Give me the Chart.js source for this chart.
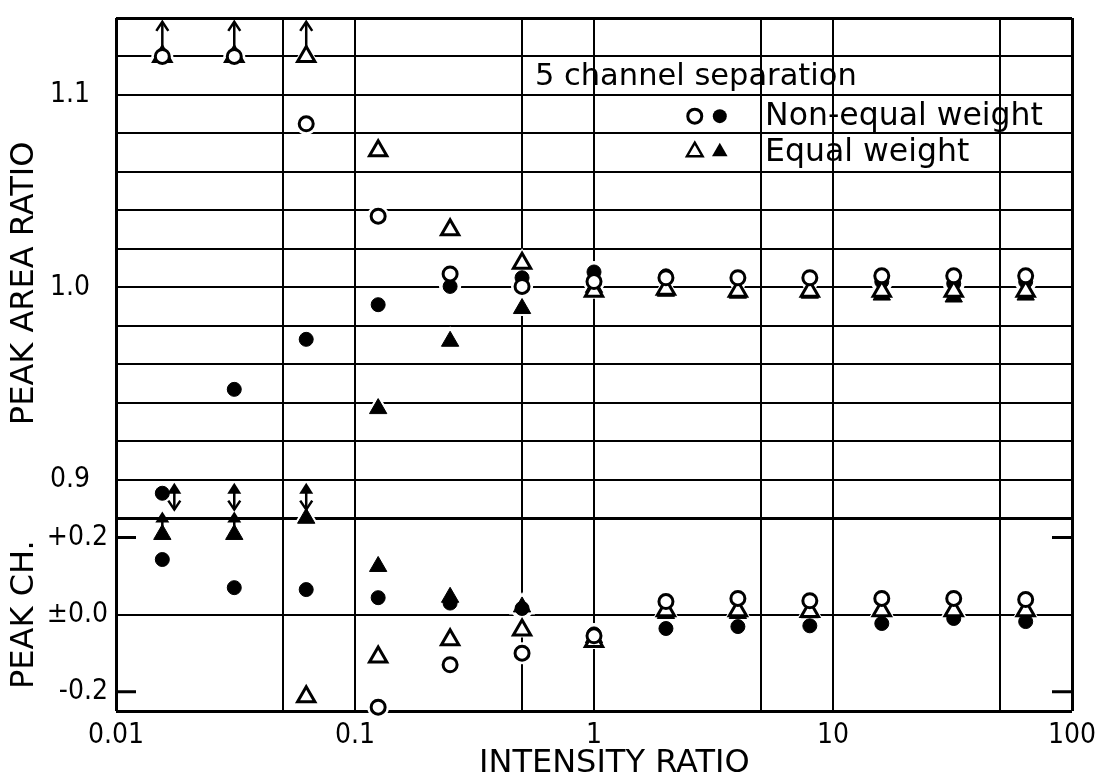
<!DOCTYPE html>
<html>
<head>
<meta charset="utf-8">
<script src="https://cdn.jsdelivr.net/npm/chart.js@4.4.1/dist/chart.umd.min.js"></script>
<style>
    html, body { margin: 0; padding: 0; background: #fff; }
</style>
</head>
<body>
<canvas id="chart" width="1097" height="779"></canvas>
<script>
// intensity ratios measured (1/64 ... 64)
const intensityRatio = [1/64, 1/32, 1/16, 1/8, 1/4, 1/2, 1, 2, 4, 8, 16, 32, 64];

// upper panel: peak area ratio
const areaOpenCircle   = [1.12, 1.12, 1.085, 1.037, 1.007, 1.0005, 1.003, 1.005, 1.005, 1.005, 1.006, 1.006, 1.006];
const areaFilledCircle = [0.893, 0.947, 0.973, 0.991, 1.0005, 1.005, 1.008, 1.006, 1.005, 1.005, 1.003, 1.002, 1.003];
const areaOpenTri      = [1.12, 1.12, 1.12, 1.071, 1.030, 1.0125, 0.998, 0.999, 0.998, 0.998, 0.998, 0.998, 0.998];
const areaFilledTri    = [null, null, null, 0.937, 0.972, 0.989, 1.0, 0.998, 0.997, 0.997, 0.996, 0.995, 0.996];

// lower panel: peak channel shift
const chOpenCircle   = [null, null, null, -0.24, -0.13, -0.10, -0.055, 0.034, 0.042, 0.036, 0.042, 0.042, 0.039];
const chFilledCircle = [0.143, 0.070, 0.065, 0.044, 0.03, 0.016, -0.05, -0.036, -0.031, -0.029, -0.023, -0.01, -0.018];
const chOpenTri      = [null, null, -0.213, -0.11, -0.065, -0.04, -0.07, 0.01, 0.01, 0.008, 0.01, 0.01, 0.01];
const chFilledTri    = [0.208, 0.208, 0.25, 0.125, 0.045, 0.02, -0.06, 0.003, 0.003, 0.005, 0.01, 0.013, 0.008];

// points off the scale, marked with arrows
const areaAboveX = [1/64, 1/32, 1/16];
const areaBelowX = [1/64, 1/32, 1/16];
const chAboveX   = [1/64, 1/32];

const xTicks  = [0.01, 0.05, 0.1, 0.5, 1, 5, 10, 50, 100];
const xLabels = ['0.01', '', '0.1', '', '1', '', '10', '', '100'];
const areaTicks  = [0.88, 0.90, 0.92, 0.94, 0.96, 0.98, 1.00, 1.02, 1.04, 1.06, 1.08, 1.10, 1.12, 1.14];
const areaLabels = ['', '0.9', '', '', '', '', '1.0', '', '', '', '', '1.1', '', ''];
const chTicks  = [-0.25, -0.2, 0, 0.2, 0.25];
const chLabels = ['', '-0.2', '±0.0', '+0.2', ''];

const FONT = '"DejaVu Sans", sans-serif';
const TICK_FONT = { family: '"DejaVu Sans Condensed", "DejaVu Sans", sans-serif', size: 28 };
const TITLE_FONT = { family: FONT, size: 32, lineHeight: 1.0 };

function pts(ys) {
    return intensityRatio.map((x, i) => ({ x, y: ys[i] }));
}

const openMark = { backgroundColor: '#fff', borderColor: '#000', borderWidth: 3 };
const solidMark = { backgroundColor: '#000', borderColor: '#000', borderWidth: 1 };
const haloMark = { backgroundColor: '#fff', borderColor: '#fff', borderWidth: 0 };

function mark(data, axis, style, shape, grow) {
    const r = (shape === 'triangle' ? 10 : 7) + (grow || 0);
    return Object.assign({
        data: pts(data),
        yAxisID: axis,
        pointStyle: shape,
        pointRadius: r,
        pointHoverRadius: r,
        showLine: false,
        clip: false
    }, style);
}

function upChevron(ctx, x, y) {
    ctx.beginPath();
    ctx.moveTo(x - 6, y + 9);
    ctx.lineTo(x, y);
    ctx.lineTo(x + 6, y + 9);
    ctx.stroke();
}

function downChevron(ctx, x, y) {
    ctx.beginPath();
    ctx.moveTo(x - 6, y - 9);
    ctx.lineTo(x, y);
    ctx.lineTo(x + 6, y - 9);
    ctx.stroke();
}

function solidUpHead(ctx, x, y) {
    ctx.beginPath();
    ctx.moveTo(x, y);
    ctx.lineTo(x + 7, y + 11);
    ctx.lineTo(x - 7, y + 11);
    ctx.closePath();
    ctx.fill();
}

function circleKey(ctx, x, y, filled) {
    ctx.beginPath();
    ctx.arc(x, y, 7, 0, Math.PI * 2);
    if (filled) ctx.fill(); else { ctx.fillStyle = '#fff'; ctx.fill(); ctx.fillStyle = '#000'; ctx.stroke(); }
}

function triKey(ctx, x, y, filled) {
    const r = 9;
    ctx.beginPath();
    ctx.moveTo(x, y - r);
    ctx.lineTo(x + r * 0.866, y + r / 2);
    ctx.lineTo(x - r * 0.866, y + r / 2);
    ctx.closePath();
    if (filled) ctx.fill(); else { ctx.fillStyle = '#fff'; ctx.fill(); ctx.fillStyle = '#000'; ctx.stroke(); }
}

const extras = {
    id: 'extras',
    afterDatasetsDraw(chart) {
        const { ctx, chartArea } = chart;
        const { x, yArea, yCh } = chart.scales;
        ctx.save();
        ctx.strokeStyle = '#000';
        ctx.fillStyle = '#000';
        ctx.lineWidth = 2.5;
        ctx.lineCap = 'butt';

        // above the upper limit
        areaAboveX.forEach(v => {
            const px = x.getPixelForValue(v);
            const y0 = yArea.getPixelForValue(1.12) - 9;
            const y1 = yArea.getPixelForValue(1.138);
            ctx.beginPath(); ctx.moveTo(px, y0); ctx.lineTo(px, y1); ctx.stroke();
            upChevron(ctx, px, y1);
        });

        // filled triangles below the lower limit of the area panel
        areaBelowX.forEach((v, i) => {
            const px = x.getPixelForValue(v) + (i === 0 ? 12 : 0);
            const yt = yArea.getPixelForValue(0.8985);
            const yb = yArea.getPixelForValue(0.8845);
            solidUpHead(ctx, px, yt);
            ctx.beginPath(); ctx.moveTo(px, yt + 8); ctx.lineTo(px, yb); ctx.stroke();
            downChevron(ctx, px, yb);
        });

        // channel shift beyond the upper limit
        chAboveX.forEach(v => {
            const px = x.getPixelForValue(v);
            const y0 = yCh.getPixelForValue(0.208) - 8;
            const y1 = yArea.getPixelForValue(0.8835);
            ctx.beginPath(); ctx.moveTo(px, y0); ctx.lineTo(px, y1 + 6); ctx.stroke();
            solidUpHead(ctx, px, y1);
        });

        // short inner ticks at +-0.2
        ctx.lineWidth = 3;
        [0.2, -0.2].forEach(v => {
            const py = yCh.getPixelForValue(v);
            ctx.beginPath();
            ctx.moveTo(chartArea.left, py); ctx.lineTo(chartArea.left + 20, py);
            ctx.moveTo(chartArea.right - 20, py); ctx.lineTo(chartArea.right, py);
            ctx.stroke();
        });

        // key
        ctx.textBaseline = 'alphabetic';
        ctx.textAlign = 'left';
        ctx.font = '30.5px ' + FONT;
        ctx.fillText('5 channel separation', x.getPixelForValue(0.566), yArea.getPixelForValue(1.1052));
        ctx.font = '31.5px ' + FONT;
        ctx.fillText('Non-equal weight', x.getPixelForValue(5.2), yArea.getPixelForValue(1.0844));
        ctx.fillText('Equal weight', x.getPixelForValue(5.2), yArea.getPixelForValue(1.0658));
        ctx.lineWidth = 3;
        circleKey(ctx, x.getPixelForValue(2.64), yArea.getPixelForValue(1.089), false);
        circleKey(ctx, x.getPixelForValue(3.36), yArea.getPixelForValue(1.089), true);
        ctx.lineWidth = 2.5;
        triKey(ctx, x.getPixelForValue(2.64), yArea.getPixelForValue(1.0705), false);
        triKey(ctx, x.getPixelForValue(3.36), yArea.getPixelForValue(1.0705), true);
        ctx.restore();
    }
};

// drop the label overhang padding so the frame sits where the reference has it
function noOverhang(s) {
    s.paddingTop = 0; s.paddingBottom = 0; s.paddingLeft = 0; s.paddingRight = 0;
}

new Chart(document.getElementById('chart'), {
    type: 'scatter',
    data: {
        datasets: [
            mark(areaOpenCircle, 'yArea', openMark, 'circle'),
            mark(areaOpenTri, 'yArea', openMark, 'triangle'),
            mark(chOpenCircle, 'yCh', openMark, 'circle'),
            mark(chOpenTri, 'yCh', openMark, 'triangle'),
            mark(areaFilledCircle, 'yArea', solidMark, 'circle'),
            mark(areaFilledTri, 'yArea', solidMark, 'triangle'),
            mark(chFilledCircle, 'yCh', solidMark, 'circle'),
            mark(chFilledTri, 'yCh', solidMark, 'triangle'),
            // white halos that break the grid lines around the marks
            mark(areaOpenCircle, 'yArea', haloMark, 'circle', 4),
            mark(areaOpenTri, 'yArea', haloMark, 'triangle', 5),
            mark(chOpenCircle, 'yCh', haloMark, 'circle', 4),
            mark(chOpenTri, 'yCh', haloMark, 'triangle', 5),
            mark(areaFilledCircle, 'yArea', haloMark, 'circle', 4),
            mark(areaFilledTri, 'yArea', haloMark, 'triangle', 5),
            mark(chFilledCircle, 'yCh', haloMark, 'circle', 4),
            mark(chFilledTri, 'yCh', haloMark, 'triangle', 5)
        ]
    },
    options: {
        responsive: false,
        animation: false,
        layout: { padding: { top: 18, right: 25, left: 0, bottom: 0 } },
        plugins: { legend: { display: false }, tooltip: { enabled: false } },
        scales: {
            x: {
                type: 'logarithmic',
                position: 'bottom',
                min: 0.01,
                max: 100,
                afterBuildTicks: s => { s.ticks = xTicks.map(v => ({ value: v })); },
                afterFit: s => { s.height = 68; noOverhang(s); },
                ticks: {
                    autoSkip: false,
                    maxRotation: 0,
                    padding: 8,
                    color: '#000',
                    font: TICK_FONT,
                    callback: (v, i) => xLabels[i]
                },
                grid: {
                    color: '#000',
                    drawTicks: false,
                    lineWidth: c => (c.index === 0 || c.index === xTicks.length - 1) ? 3 : 2
                },
                border: { display: false },
                title: {
                    display: true,
                    text: '    INTENSITY RATIO',
                    color: '#000',
                    font: TITLE_FONT,
                    padding: { top: 0, bottom: -1 }
                }
            },
            yArea: {
                type: 'linear',
                position: 'left',
                stack: 'panels',
                stackWeight: 501,
                weight: 1,
                min: 0.88,
                max: 1.14,
                afterBuildTicks: s => { s.ticks = areaTicks.map(v => ({ value: v })); },
                afterFit: s => { s.width = 116; noOverhang(s); },
                ticks: {
                    autoSkip: false,
                    padding: 26,
                    color: '#000',
                    font: TICK_FONT,
                    callback: (v, i) => areaLabels[i]
                },
                grid: {
                    color: '#000',
                    drawTicks: false,
                    lineWidth: c => (c.index === 0 || c.index === areaTicks.length - 1) ? 3 : 2
                },
                border: { display: false },
                title: {
                    display: true,
                    text: 'PEAK AREA RATIO   ',
                    color: '#000',
                    font: TITLE_FONT,
                    padding: { top: 9, bottom: 0 }
                }
            },
            yCh: {
                type: 'linear',
                position: 'left',
                stack: 'panels',
                stackWeight: 193,
                weight: 0,
                min: -0.25,
                max: 0.25,
                afterBuildTicks: s => { s.ticks = chTicks.map(v => ({ value: v })); },
                afterFit: s => { s.width = 116; noOverhang(s); },
                ticks: {
                    autoSkip: false,
                    padding: 8,
                    color: '#000',
                    font: TICK_FONT,
                    callback: (v, i) => chLabels[i]
                },
                grid: {
                    drawTicks: false,
                    color: c => (Math.abs(chTicks[c.index]) === 0.2) ? 'rgba(0,0,0,0)' : '#000',
                    lineWidth: c => (Math.abs(chTicks[c.index]) === 0.25) ? 3 : 2
                },
                border: { display: false },
                title: {
                    display: true,
                    text: 'PEAK CH.',
                    color: '#000',
                    font: TITLE_FONT,
                    padding: { top: 9, bottom: 0 }
                }
            }
        }
    },
    plugins: [extras]
});
</script>
</body>
</html>
